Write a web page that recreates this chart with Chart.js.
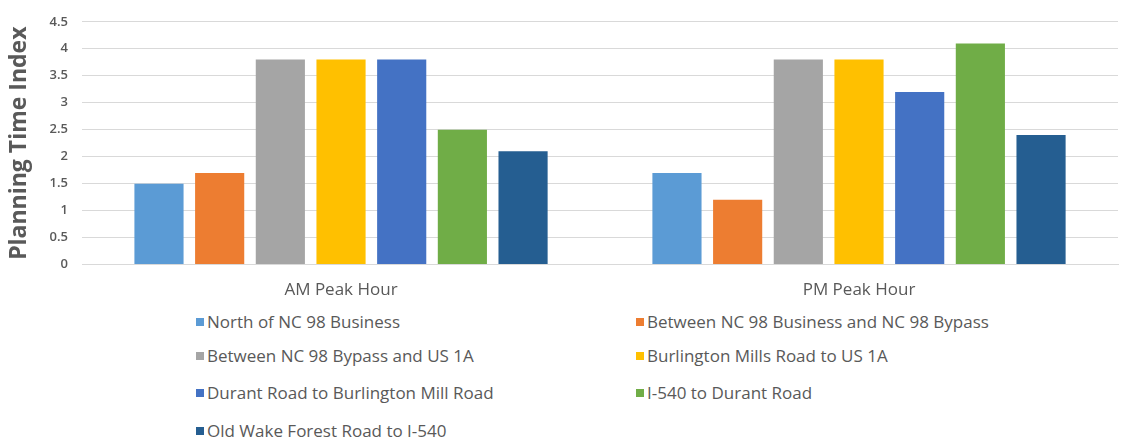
<!DOCTYPE html>
<html>
<head>
<meta charset="utf-8">
<script src="https://cdn.jsdelivr.net/npm/chart.js@4.4.1/dist/chart.umd.min.js"></script>
<style>
  html, body { margin: 0; padding: 0; background: #fff; }
  body { width: 1131px; height: 439px; position: relative; overflow: hidden; font-family: "Open Sans", sans-serif; }
  #wrap { position: absolute; left: 0; top: 0; width: 1131px; height: 307px; }
  #legend { position: absolute; left: 0; top: 304px; width: 1131px; }
  .item { position: absolute; display: flex; align-items: center; color: #595959; font-size: 17px; white-space: nowrap; }
  .box { width: 8px; height: 8px; margin-right: 3px; }
</style>
</head>
<body>
<div id="wrap"><canvas id="chart"></canvas></div>
<div id="legend"></div>
<script>
const periods = ["AM Peak Hour", "PM Peak Hour"];
const segments = [
  "North of NC 98 Business",
  "Between NC 98 Business and NC 98 Bypass",
  "Between NC 98 Bypass and US 1A",
  "Burlington Mills Road to US 1A",
  "Durant Road to Burlington Mill Road",
  "I-540 to Durant Road",
  "Old Wake Forest Road to I-540",
];
const amValues = [1.5, 1.7, 3.8, 3.8, 3.8, 2.5, 2.1];
const pmValues = [1.7, 1.2, 3.8, 3.8, 3.2, 4.1, 2.4];
const colors = ["#5B9BD5", "#ED7D31", "#A5A5A5", "#FFC000", "#4472C4", "#70AD47", "#255E91"];

const grey = "#595959";
const datasets = segments.map((name, i) => ({
  label: name,
  data: [amValues[i], pmValues[i]],
  backgroundColor: colors[i],
  borderWidth: 0,
  categoryPercentage: 0.82,
  barPercentage: 0.81,
}));

new Chart(document.getElementById("chart"), {
  type: "bar",
  data: { labels: periods, datasets },
  options: {
    responsive: true,
    maintainAspectRatio: false,
    animation: false,
    layout: { padding: { left: 0, right: 13, top: 6, bottom: 0 } },
    scales: {
      x: {
        grid: { display: false },
        border: { color: "#d9d9d9" },
        ticks: { color: grey, font: { family: "Open Sans, sans-serif", size: 17 }, padding: 7 },
      },
      y: {
        min: 0,
        max: 4.5,
        ticks: {
          stepSize: 0.5,
          color: grey,
          font: { family: "Open Sans, sans-serif", size: 13, weight: "600" },
          padding: 14,
          callback: (v) => String(v),
        },
        grid: { color: "#d9d9d9", drawTicks: false },
        border: { display: false },
        title: {
          display: true,
          text: "Planning Time Index",
          color: grey,
          font: { family: "Open Sans, sans-serif", size: 23, weight: "bold" },
          padding: { top: 6, bottom: 2 },
        },
      },
    },
    plugins: {
      legend: { display: false },
      tooltip: { enabled: false },
    },
  },
});

const legendEl = document.getElementById("legend");
const rowY = [6, 40, 77, 115];
const colX = [196, 636];
segments.forEach((name, i) => {
  const item = document.createElement("div");
  item.className = "item";
  item.style.left = colX[i % 2] + "px";
  item.style.top = rowY[Math.floor(i / 2)] + "px";
  item.innerHTML = `<span class="box" style="background:${colors[i]}"></span>${name}`;
  legendEl.appendChild(item);
});
</script>
</body>
</html>
